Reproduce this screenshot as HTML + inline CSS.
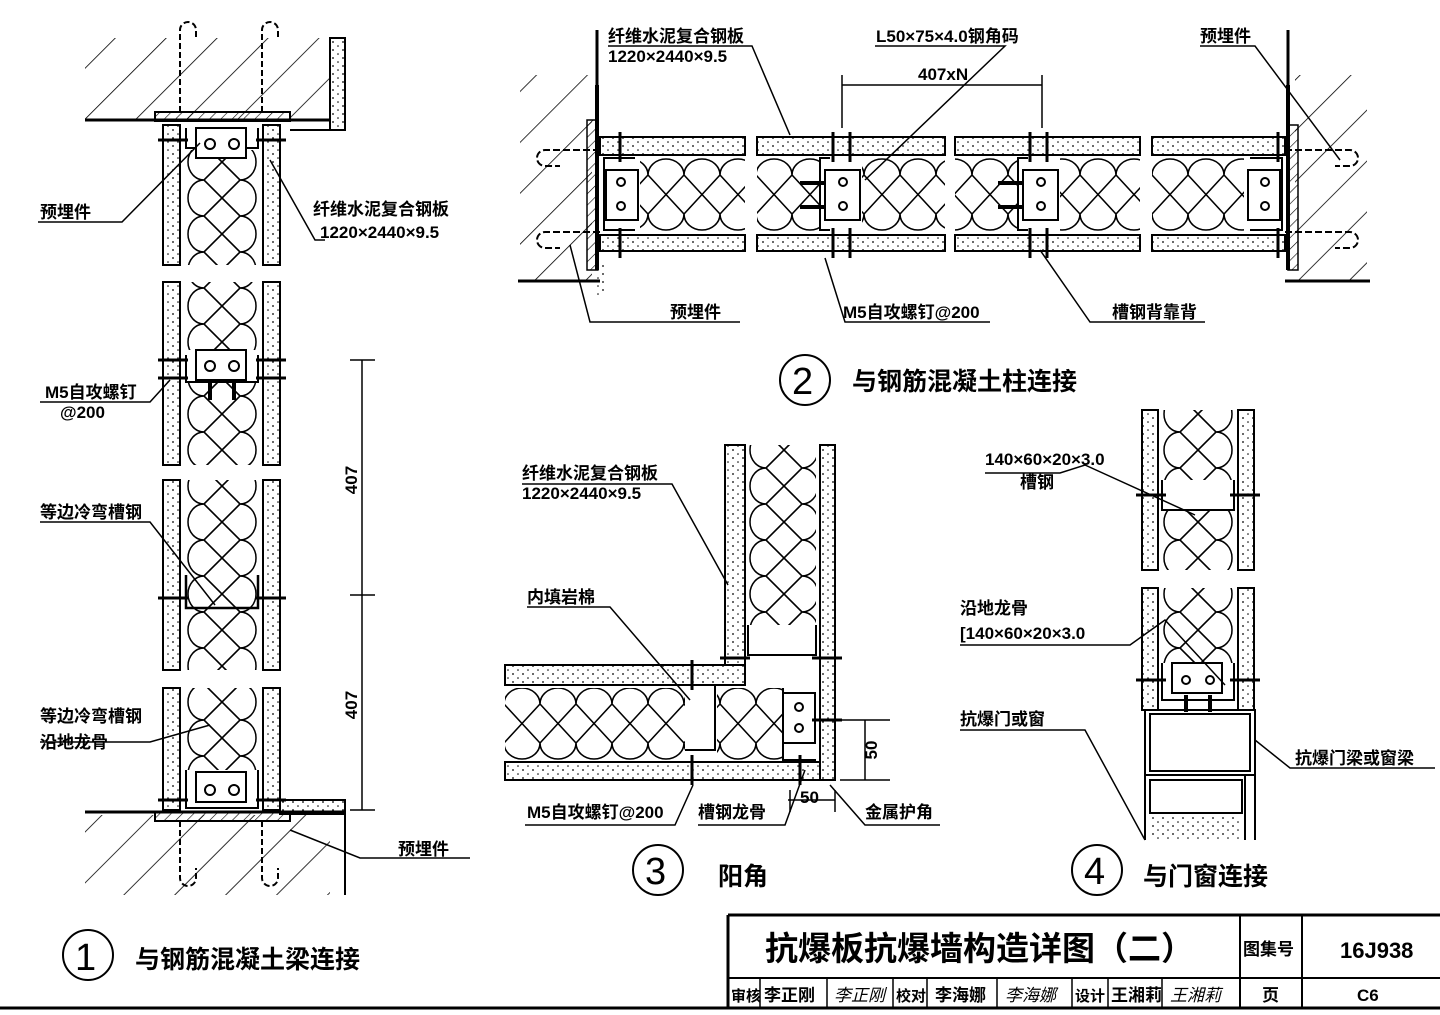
<!DOCTYPE html>
<html><head><meta charset="utf-8"><style>
html,body{margin:0;padding:0;background:#fff}
svg{display:block}
text{font-family:"Liberation Sans","Noto Sans CJK SC",sans-serif;fill:#000}
.l{font-size:17px;font-weight:bold}
.s{font-size:15px;font-weight:bold}
.t{font-size:25px;font-weight:bold}
</style></head><body>
<svg width="1440" height="1015" viewBox="0 0 1440 1015" xmlns="http://www.w3.org/2000/svg">
<defs>
<pattern id="ins" width="36" height="75" patternUnits="userSpaceOnUse" y="157">
<path d="M0,18 A18,16 0 0 1 36,18 M0,57 A18,16 0 0 0 36,57 M0,18 L36,57 M36,18 L0,57" fill="none" stroke="#000" stroke-width="1.6"/>
</pattern>
<pattern id="ins3" width="36" height="75" patternUnits="userSpaceOnUse" y="686">
<path d="M0,18 A18,16 0 0 1 36,18 M0,57 A18,16 0 0 0 36,57 M0,18 L36,57 M36,18 L0,57" fill="none" stroke="#000" stroke-width="1.6"/>
</pattern>
<pattern id="insv" width="36" height="72" patternUnits="userSpaceOnUse" patternTransform="translate(186 0) rotate(90)">
<path d="M0,18 A18,16 0 0 1 36,18 M0,54 A18,16 0 0 0 36,54 M0,18 L36,54 M36,18 L0,54" fill="none" stroke="#000" stroke-width="1.6"/>
</pattern>
<pattern id="insv3" width="36" height="72" patternUnits="userSpaceOnUse" patternTransform="translate(748 0) rotate(90)">
<path d="M0,18 A18,16 0 0 1 36,18 M0,54 A18,16 0 0 0 36,54 M0,18 L36,54 M36,18 L0,54" fill="none" stroke="#000" stroke-width="1.6"/>
</pattern>
<pattern id="insv4" width="36" height="72" patternUnits="userSpaceOnUse" patternTransform="translate(1162 0) rotate(90)">
<path d="M0,18 A18,16 0 0 1 36,18 M0,54 A18,16 0 0 0 36,54 M0,18 L36,54 M36,18 L0,54" fill="none" stroke="#000" stroke-width="1.6"/>
</pattern>
<pattern id="hat" width="36" height="36" patternUnits="userSpaceOnUse" patternTransform="rotate(45)">
<line x1="0" y1="0" x2="0" y2="36" stroke="#000" stroke-width="1.6"/>
</pattern>
<pattern id="hat2" width="8" height="8" patternUnits="userSpaceOnUse" patternTransform="rotate(45)">
<line x1="0" y1="0" x2="0" y2="8" stroke="#000" stroke-width="1.2"/>
</pattern>
<pattern id="dots" width="10" height="8" patternUnits="userSpaceOnUse">
<circle cx="3" cy="2" r="0.9"/><circle cx="8" cy="6" r="0.8"/>
</pattern>
</defs>

<g fill="none" stroke="#000" stroke-width="2">
<rect x="85" y="38" width="245" height="82" fill="url(#hat)" stroke="none"/>
<line x1="85" y1="120" x2="330" y2="120" stroke-width="3"/>
<rect x="330" y="38" width="15" height="92" fill="url(#dots)"/>
<line x1="290" y1="130" x2="345" y2="130"/>
<rect x="155" y="112" width="135" height="9" fill="url(#hat2)"/>
<path d="M180,112 V30 A8,8 0 0 1 196,30 V40 M262,112 V30 A8,8 0 0 1 278,30 V40" stroke-dasharray="6,3"/>
<rect x="163" y="125" width="17" height="140" fill="url(#dots)"/>
<rect x="263" y="125" width="17" height="140" fill="url(#dots)"/>
<rect x="186" y="150" width="72" height="115" fill="url(#insv)" stroke="none"/>
<rect x="163" y="282" width="17" height="183" fill="url(#dots)"/>
<rect x="263" y="282" width="17" height="183" fill="url(#dots)"/>
<rect x="186" y="282" width="72" height="183" fill="url(#insv)" stroke="none"/>
<rect x="163" y="480" width="17" height="190" fill="url(#dots)"/>
<rect x="263" y="480" width="17" height="190" fill="url(#dots)"/>
<rect x="186" y="480" width="72" height="190" fill="url(#insv)" stroke="none"/>
<rect x="163" y="688" width="17" height="122" fill="url(#dots)"/>
<rect x="263" y="688" width="17" height="122" fill="url(#dots)"/>
<rect x="186" y="688" width="72" height="82" fill="url(#insv)" stroke="none"/>
<path d="M186,128 V148 H258 V128" /><rect x="196" y="128" width="50" height="30" fill="#fff"/>
<circle cx="210" cy="144" r="5"/><circle cx="234" cy="144" r="5"/>
<rect x="186" y="350" width="72" height="32" fill="#fff" stroke="none"/>
<rect x="196" y="350" width="50" height="30" fill="#fff"/>
<path d="M186,355 V382 H258 V355"/><circle cx="210" cy="366" r="5"/><circle cx="234" cy="366" r="5"/>
<path d="M210,382 V400 M234,382 V400" stroke-width="4"/>
<path d="M186,575 V608 H258 V575" stroke-width="2.5"/>
<rect x="186" y="770" width="72" height="38" fill="#fff" stroke="none"/>
<rect x="196" y="772" width="50" height="30" fill="#fff"/>
<path d="M186,770 V808 H258 V770"/><circle cx="210" cy="790" r="5"/><circle cx="234" cy="790" r="5"/>
<g stroke-width="3">
<line x1="158" y1="140" x2="188" y2="140"/><line x1="256" y1="140" x2="286" y2="140"/>
<line x1="158" y1="360" x2="188" y2="360"/><line x1="256" y1="360" x2="286" y2="360"/>
<line x1="158" y1="378" x2="188" y2="378"/><line x1="256" y1="378" x2="286" y2="378"/>
<line x1="158" y1="598" x2="188" y2="598"/><line x1="256" y1="598" x2="286" y2="598"/>
<line x1="158" y1="800" x2="188" y2="800"/><line x1="256" y1="800" x2="286" y2="800"/>
</g>
<rect x="85" y="815" width="245" height="80" fill="url(#hat)" stroke="none"/>
<line x1="85" y1="812" x2="345" y2="812" stroke-width="3"/>
<rect x="280" y="800" width="65" height="14" fill="url(#dots)"/>
<line x1="345" y1="812" x2="345" y2="895"/>
<rect x="155" y="812" width="135" height="9" fill="url(#hat2)"/>
<path d="M180,821 V878 A8,8 0 0 0 196,878 V868 M262,821 V878 A8,8 0 0 0 278,878 V868" stroke-dasharray="6,3"/>
<g stroke-width="1.5">
<line x1="362" y1="360" x2="362" y2="810"/>
<line x1="350" y1="360" x2="375" y2="360"/><line x1="350" y1="595" x2="375" y2="595"/><line x1="350" y1="810" x2="375" y2="810"/>
<polyline points="38,222 122,222 200,143"/>
<polyline points="325,240 315,240 270,160"/>
<polyline points="40,402 150,402 170,380"/>
<polyline points="40,522 150,522 215,605"/>
<polyline points="40,742 150,742 210,725"/>
<polyline points="470,858 360,858 290,830"/>
</g>

<rect x="520" y="75" width="72" height="205" fill="url(#hat)" stroke="none"/>
<line x1="597" y1="85" x2="597" y2="270" stroke-width="4"/>
<line x1="518" y1="281" x2="600" y2="281" stroke-width="3"/>
<rect x="587" y="120" width="10" height="150" fill="url(#hat2)" stroke-width="1.5"/>
<rect x="595" y="265" width="12" height="32" fill="url(#dots)" stroke="none"/>
<rect x="1295" y="75" width="72" height="205" fill="url(#hat)" stroke="none"/>
<line x1="1288" y1="85" x2="1288" y2="270" stroke-width="4"/>
<line x1="1285" y1="281" x2="1370" y2="281" stroke-width="3"/>
<rect x="1288" y="125" width="10" height="145" fill="url(#hat2)" stroke-width="1.5"/>
<line x1="597" y1="85" x2="597" y2="30" stroke-width="3"/>
<line x1="1288" y1="85" x2="1288" y2="30" stroke-width="3"/>
<path d="M600,150 H545 A8,8 0 0 0 545,166 H560 M600,232 H545 A8,8 0 0 0 545,248 H560 M1285,150 H1350 A8,8 0 0 1 1350,166 H1335 M1285,232 H1350 A8,8 0 0 1 1350,248 H1335" stroke-dasharray="7,3"/>
<rect x="600" y="137" width="145" height="18" fill="url(#dots)"/><rect x="600" y="235" width="145" height="16" fill="url(#dots)"/>
<rect x="757" y="137" width="188" height="18" fill="url(#dots)"/><rect x="757" y="235" width="188" height="16" fill="url(#dots)"/>
<rect x="955" y="137" width="185" height="18" fill="url(#dots)"/><rect x="955" y="235" width="185" height="16" fill="url(#dots)"/>
<rect x="1152" y="137" width="133" height="18" fill="url(#dots)"/><rect x="1152" y="235" width="133" height="16" fill="url(#dots)"/>
<rect x="640" y="157" width="105" height="75" fill="url(#ins)" stroke="none"/>
<rect x="757" y="157" width="62" height="75" fill="url(#ins)" stroke="none"/>
<rect x="862" y="157" width="83" height="75" fill="url(#ins)" stroke="none"/>
<rect x="955" y="157" width="62" height="75" fill="url(#ins)" stroke="none"/>
<rect x="1060" y="157" width="80" height="75" fill="url(#ins)" stroke="none"/>
<rect x="1152" y="157" width="92" height="75" fill="url(#ins)" stroke="none"/>
<path d="M635,158 H604 V230 H635"/><rect x="606" y="170" width="32" height="50" fill="#fff"/>
<circle cx="621" cy="182" r="4"/><circle cx="621" cy="206" r="4"/>
<path d="M1250,158 H1282 V230 H1250"/><rect x="1248" y="170" width="32" height="50" fill="#fff"/>
<circle cx="1265" cy="182" r="4"/><circle cx="1265" cy="206" r="4"/>
<path d="M830,158 H820 V230 H830"/><rect x="825" y="170" width="35" height="50" fill="#fff"/>
<circle cx="843" cy="182" r="4"/><circle cx="843" cy="206" r="4"/>
<path d="M1028,158 H1018 V230 H1028"/><rect x="1023" y="170" width="35" height="50" fill="#fff"/>
<circle cx="1041" cy="182" r="4"/><circle cx="1041" cy="206" r="4"/>
<path d="M800,183 H825 M800,207 H825 M998,183 H1023 M998,207 H1023" stroke-width="4"/>
<g stroke-width="3">
<line x1="620" y1="132" x2="620" y2="162"/><line x1="620" y1="228" x2="620" y2="258"/>
<line x1="1278" y1="132" x2="1278" y2="162"/><line x1="1278" y1="228" x2="1278" y2="258"/>
<line x1="833" y1="132" x2="833" y2="162"/><line x1="833" y1="228" x2="833" y2="258"/>
<line x1="850" y1="132" x2="850" y2="162"/><line x1="850" y1="228" x2="850" y2="258"/>
<line x1="1030" y1="132" x2="1030" y2="162"/><line x1="1030" y1="228" x2="1030" y2="258"/>
<line x1="1047" y1="132" x2="1047" y2="162"/><line x1="1047" y1="228" x2="1047" y2="258"/>
</g>
<g stroke-width="1.5">
<line x1="842" y1="85" x2="1042" y2="85"/><line x1="842" y1="75" x2="842" y2="128"/><line x1="1042" y1="75" x2="1042" y2="128"/>
<polyline points="608,46 752,46 790,135"/>
<polyline points="875,46 1005,46 865,180"/>
<polyline points="1200,46 1255,46 1340,160"/>
<polyline points="740,322 590,322 570,245"/>
<polyline points="990,322 845,322 825,258"/>
<polyline points="1205,322 1090,322 1040,250"/>
</g>

<rect x="725" y="445" width="20" height="220" fill="url(#dots)"/>
<rect x="820" y="445" width="15" height="335" fill="url(#dots)"/>
<rect x="748" y="445" width="68" height="180" fill="url(#insv3)" stroke="none"/>
<rect x="505" y="665" width="240" height="20" fill="url(#dots)"/>
<rect x="505" y="762" width="315" height="18" fill="url(#dots)"/>
<rect x="505" y="688" width="180" height="72" fill="url(#ins3)" stroke="none"/>
<rect x="717" y="688" width="65" height="72" fill="url(#ins3)" stroke="none"/>
<path d="M748,625 V655 H816 V625"/>
<path d="M685,685 H715 V750 H685"/>
<rect x="783" y="693" width="32" height="50" fill="#fff"/><circle cx="799" cy="707" r="4"/><circle cx="799" cy="728" r="4"/>
<path d="M783,688 V760 H816"/>
<g stroke-width="3">
<line x1="692" y1="660" x2="692" y2="690"/><line x1="692" y1="755" x2="692" y2="785"/>
<line x1="720" y1="658" x2="750" y2="658"/><line x1="812" y1="658" x2="842" y2="658"/>
<line x1="812" y1="720" x2="842" y2="720"/><line x1="800" y1="755" x2="800" y2="785"/>
</g>
<g stroke-width="1.5">
<line x1="840" y1="720" x2="890" y2="720"/><line x1="840" y1="780" x2="890" y2="780"/>
<line x1="865" y1="720" x2="865" y2="780"/>
<line x1="788" y1="800" x2="835" y2="800"/><line x1="790" y1="790" x2="790" y2="812"/><line x1="835" y1="790" x2="835" y2="812"/>
<polyline points="522,484 672,484 728,585"/>
<polyline points="527,607 610,607 690,700"/>
<polyline points="525,825 675,825 693,785"/>
<polyline points="698,825 785,825 805,770"/>
<polyline points="940,825 865,825 830,785"/>
</g>

<rect x="1142" y="410" width="16" height="160" fill="url(#dots)"/><rect x="1238" y="410" width="16" height="160" fill="url(#dots)"/>
<rect x="1162" y="410" width="72" height="160" fill="url(#insv4)" stroke="none"/>
<rect x="1162" y="480" width="72" height="30" fill="#fff" stroke="none"/>
<path d="M1162,480 V510 H1234 V480"/>
<rect x="1142" y="588" width="16" height="122" fill="url(#dots)"/><rect x="1238" y="588" width="16" height="122" fill="url(#dots)"/>
<rect x="1162" y="588" width="72" height="75" fill="url(#insv4)" stroke="none"/>
<rect x="1172" y="663" width="50" height="30" fill="#fff"/><path d="M1162,663 V700 H1234 V663"/>
<circle cx="1186" cy="680" r="4"/><circle cx="1210" cy="680" r="4"/>
<path d="M1186,695 V712 M1210,695 V712" stroke-width="4"/>
<g stroke-width="3">
<line x1="1136" y1="495" x2="1166" y2="495"/><line x1="1230" y1="495" x2="1260" y2="495"/>
<line x1="1136" y1="680" x2="1166" y2="680"/><line x1="1230" y1="680" x2="1260" y2="680"/>
</g>
<rect x="1145" y="710" width="110" height="65"/><rect x="1150" y="714" width="100" height="57"/>
<line x1="1145" y1="775" x2="1145" y2="840"/><line x1="1255" y1="775" x2="1255" y2="840"/><line x1="1245" y1="775" x2="1245" y2="840"/>
<rect x="1150" y="780" width="92" height="33"/>
<rect x="1150" y="815" width="92" height="25" fill="url(#dots)" stroke="none"/>
<g stroke-width="1.5">
<polyline points="985,473 1060,473 1085,465 1195,515"/>
<polyline points="960,645 1130,645 1165,620 1225,685"/>
<polyline points="960,730 1085,730 1145,840"/>
<polyline points="1435,768 1290,768 1255,740"/>
</g>

<circle cx="88" cy="955" r="25"/><circle cx="805" cy="380" r="25"/>
<circle cx="658" cy="870" r="25"/><circle cx="1097" cy="870" r="25"/>

<line x1="728" y1="915" x2="1440" y2="915" stroke-width="3"/>
<line x1="728" y1="915" x2="728" y2="1008" stroke-width="3"/>
<line x1="728" y1="978" x2="1440" y2="978"/>
<line x1="0" y1="1008" x2="1440" y2="1008" stroke-width="3"/>
<line x1="1240" y1="915" x2="1240" y2="1008"/><line x1="1302" y1="915" x2="1302" y2="1008"/>
<g stroke-width="1.5">
<line x1="760" y1="978" x2="760" y2="1008"/><line x1="827" y1="978" x2="827" y2="1008"/>
<line x1="893" y1="978" x2="893" y2="1008"/><line x1="927" y1="978" x2="927" y2="1008"/>
<line x1="997" y1="978" x2="997" y2="1008"/><line x1="1072" y1="978" x2="1072" y2="1008"/>
<line x1="1108" y1="978" x2="1108" y2="1008"/><line x1="1162" y1="978" x2="1162" y2="1008"/>
</g>
</g>

<text x="40" y="218" class="l">预埋件</text>
<text x="313" y="215" class="l">纤维水泥复合钢板</text>
<text x="320" y="238" class="l" font-size="15">1220×2440×9.5</text>
<text x="45" y="398" class="l">M5自攻螺钉</text>
<text x="60" y="418" class="l">@200</text>
<text x="40" y="518" class="l">等边冷弯槽钢</text>
<text x="40" y="722" class="l">等边冷弯槽钢</text>
<text x="40" y="748" class="l">沿地龙骨</text>
<text x="398" y="855" class="l">预埋件</text>
<text x="357" y="480" class="l" transform="rotate(-90 357 480)" text-anchor="middle">407</text>
<text x="357" y="705" class="l" transform="rotate(-90 357 705)" text-anchor="middle">407</text>
<text x="75" y="970" font-size="38">1</text>
<text x="135" y="968" class="t">与钢筋混凝土梁连接</text>

<text x="608" y="42" class="l">纤维水泥复合钢板</text>
<text x="608" y="62" class="l" font-size="15">1220×2440×9.5</text>
<text x="876" y="42" class="l">L50×75×4.0钢角码</text>
<text x="918" y="80" class="l" font-size="15">407xN</text>
<text x="1200" y="42" class="l">预埋件</text>
<text x="670" y="318" class="l">预埋件</text>
<text x="843" y="318" class="l">M5自攻螺钉@200</text>
<text x="1112" y="318" class="l">槽钢背靠背</text>
<text x="792" y="394" font-size="38">2</text>
<text x="852" y="390" class="t">与钢筋混凝土柱连接</text>

<text x="522" y="479" class="l">纤维水泥复合钢板</text>
<text x="522" y="499" class="l" font-size="15">1220×2440×9.5</text>
<text x="527" y="603" class="l">内填岩棉</text>
<text x="527" y="818" class="l">M5自攻螺钉@200</text>
<text x="698" y="818" class="l">槽钢龙骨</text>
<text x="800" y="803" class="l">50</text>
<text x="877" y="750" class="l" transform="rotate(-90 877 750)" text-anchor="middle">50</text>
<text x="865" y="818" class="l">金属护角</text>
<text x="645" y="884" font-size="38">3</text>
<text x="718" y="885" class="t">阳角</text>

<text x="985" y="465" class="l" font-size="16">140×60×20×3.0</text>
<text x="1020" y="488" class="l">槽钢</text>
<text x="960" y="614" class="l">沿地龙骨</text>
<text x="960" y="639" class="l" font-size="16">[140×60×20×3.0</text>
<text x="960" y="725" class="l">抗爆门或窗</text>
<text x="1295" y="764" class="l">抗爆门梁或窗梁</text>
<text x="1084" y="884" font-size="38">4</text>
<text x="1143" y="885" class="t">与门窗连接</text>

<text x="765" y="960" font-size="33" font-weight="bold">抗爆板抗爆墙构造详图（二）</text>
<text x="1243" y="955" class="l">图集号</text>
<text x="1340" y="958" font-size="22" font-weight="bold">16J938</text>
<text x="731" y="1001" class="s">审核</text>
<text x="764" y="1001" class="l">李正刚</text>
<text x="896" y="1001" class="s">校对</text>
<text x="935" y="1001" class="l">李海娜</text>
<text x="1075" y="1001" class="s">设计</text>
<text x="1111" y="1001" class="l">王湘莉</text>
<text x="1262" y="1001" class="l">页</text>
<text x="1357" y="1001" class="l">C6</text>
<text x="834" y="1001" font-size="17" font-style="italic">李正刚</text>
<text x="1005" y="1001" font-size="17" font-style="italic">李海娜</text>
<text x="1170" y="1001" font-size="17" font-style="italic">王湘莉</text>
</svg>
</body></html>
